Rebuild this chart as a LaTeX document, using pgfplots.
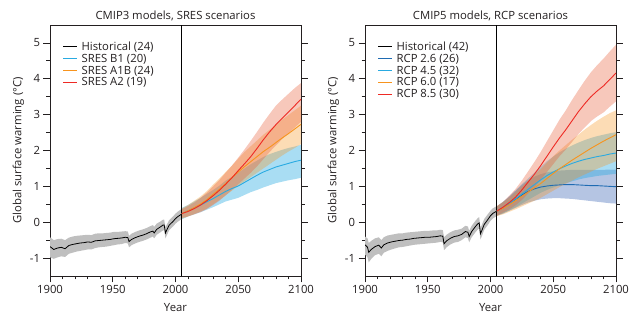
\documentclass[border=0pt]{standalone}
\usepackage{fontspec}
\setmainfont{Open Sans}
\usepackage{pgfplots}
\pgfplotsset{compat=1.18}
\usepackage{pgfplotstable}
\usepgfplotslibrary{fillbetween}
\definecolor{cCyan}{HTML}{29AAE1}
\definecolor{cDkBlue}{HTML}{1F6BB2}
\definecolor{cBandB}{HTML}{5A7FC2}
\definecolor{cOrange}{HTML}{F7941E}
\definecolor{cRed}{HTML}{EE2A24}
\definecolor{cBandR}{HTML}{E8603C}
\definecolor{cTxt}{HTML}{231F20}

% ---------- left panel data ----------
\pgfplotstableread{
yr m lo hi
1900 -0.68 -0.98 -0.42
1903 -0.76 -1.02 -0.50
1906 -0.72 -0.98 -0.47
1909 -0.70 -0.95 -0.46
1912 -0.74 -0.97 -0.50
1915 -0.65 -0.88 -0.43
1918 -0.62 -0.85 -0.40
1921 -0.60 -0.82 -0.38
1924 -0.58 -0.80 -0.37
1927 -0.57 -0.78 -0.36
1930 -0.55 -0.76 -0.35
1933 -0.56 -0.76 -0.36
1936 -0.52 -0.72 -0.32
1939 -0.51 -0.70 -0.31
1942 -0.50 -0.69 -0.31
1945 -0.49 -0.68 -0.30
1948 -0.48 -0.66 -0.29
1951 -0.46 -0.64 -0.27
1954 -0.45 -0.62 -0.27
1957 -0.44 -0.61 -0.26
1960 -0.42 -0.58 -0.25
1962 -0.43 -0.59 -0.26
1963 -0.54 -0.70 -0.38
1965 -0.48 -0.64 -0.32
1968 -0.43 -0.59 -0.27
1971 -0.39 -0.55 -0.23
1974 -0.36 -0.52 -0.20
1977 -0.32 -0.48 -0.16
1980 -0.27 -0.43 -0.11
1982 -0.25 -0.40 -0.08
1983 -0.30 -0.45 -0.13
1985 -0.20 -0.35 -0.04
1988 -0.13 -0.28 0.02
1990 -0.08 -0.23 0.07
1991 -0.08 -0.23 0.07
1992 -0.30 -0.45 -0.15
1993 -0.22 -0.37 -0.07
1995 -0.08 -0.22 0.06
1998 0.02 -0.12 0.16
2000 0.10 -0.04 0.24
2002 0.16 0.02 0.30
2005 0.23 0.09 0.37
}\histA
\pgfplotstableread{
yr m lo hi
2005 0.24 0.08 0.40
2010 0.32 0.16 0.48
2015 0.40 0.22 0.58
2020 0.48 0.28 0.68
2025 0.57 0.35 0.79
2030 0.66 0.42 0.90
2035 0.76 0.50 1.02
2040 0.86 0.58 1.16
2045 0.94 0.63 1.27
2050 1.01 0.68 1.38
2055 1.11 0.76 1.50
2060 1.21 0.84 1.62
2065 1.31 0.90 1.72
2070 1.40 0.97 1.82
2075 1.47 1.03 1.90
2080 1.54 1.09 1.96
2085 1.59 1.13 2.02
2090 1.64 1.17 2.07
2095 1.69 1.20 2.11
2100 1.73 1.24 2.16
}\bOne
\pgfplotstableread{
yr m lo hi
2005 0.24 0.10 0.38
2010 0.32 0.16 0.48
2015 0.41 0.23 0.60
2020 0.51 0.30 0.72
2025 0.63 0.38 0.87
2030 0.78 0.50 1.05
2035 0.92 0.62 1.22
2040 1.08 0.75 1.40
2045 1.24 0.88 1.58
2050 1.40 1.02 1.77
2055 1.55 1.14 1.96
2060 1.69 1.26 2.12
2065 1.83 1.38 2.28
2070 1.97 1.50 2.44
2075 2.09 1.62 2.58
2080 2.22 1.74 2.72
2085 2.35 1.86 2.86
2090 2.47 1.97 2.99
2095 2.60 2.07 3.12
2100 2.73 2.18 3.25
}\aOneB
\pgfplotstableread{
yr m lo hi
2005 0.24 0.12 0.36
2010 0.30 0.16 0.45
2015 0.38 0.22 0.55
2020 0.48 0.28 0.68
2025 0.60 0.37 0.83
2030 0.74 0.48 1.00
2035 0.89 0.60 1.18
2040 1.06 0.75 1.38
2045 1.24 0.90 1.58
2050 1.44 1.06 1.80
2055 1.63 1.22 2.03
2060 1.83 1.38 2.27
2065 2.06 1.56 2.52
2070 2.30 1.76 2.78
2075 2.52 1.96 3.02
2080 2.72 2.14 3.25
2085 2.90 2.32 3.42
2090 3.07 2.48 3.58
2095 3.25 2.64 3.74
2100 3.43 2.80 3.88
}\aTwo

% ---------- right panel data ----------
\pgfplotstableread{
yr m lo hi
1900 -0.63 -0.90 -0.40
1902 -0.70 -0.98 -0.45
1903 -0.84 -1.12 -0.58
1905 -0.76 -1.02 -0.52
1908 -0.68 -0.92 -0.45
1911 -0.64 -0.88 -0.42
1913 -0.72 -0.95 -0.50
1915 -0.63 -0.85 -0.42
1918 -0.58 -0.80 -0.37
1921 -0.55 -0.76 -0.35
1924 -0.53 -0.73 -0.33
1927 -0.51 -0.70 -0.31
1930 -0.50 -0.69 -0.31
1933 -0.48 -0.67 -0.29
1936 -0.47 -0.65 -0.28
1939 -0.45 -0.63 -0.27
1942 -0.44 -0.62 -0.26
1945 -0.43 -0.61 -0.25
1948 -0.42 -0.60 -0.24
1951 -0.42 -0.59 -0.24
1954 -0.41 -0.58 -0.23
1957 -0.40 -0.57 -0.23
1960 -0.38 -0.55 -0.21
1962 -0.39 -0.56 -0.22
1963 -0.60 -0.78 -0.42
1965 -0.52 -0.70 -0.35
1968 -0.45 -0.62 -0.28
1971 -0.40 -0.57 -0.23
1974 -0.38 -0.55 -0.21
1977 -0.34 -0.50 -0.18
1980 -0.26 -0.42 -0.10
1982 -0.28 -0.44 -0.12
1983 -0.40 -0.56 -0.24
1985 -0.26 -0.42 -0.10
1988 -0.12 -0.28 0.04
1990 -0.04 -0.20 0.12
1991 -0.02 -0.18 0.14
1992 -0.32 -0.48 -0.16
1993 -0.24 -0.40 -0.08
1995 -0.06 -0.21 0.09
1998 0.08 -0.07 0.23
2000 0.18 0.04 0.32
2002 0.25 0.11 0.39
2005 0.31 0.17 0.45
}\histB
\pgfplotstableread{
yr m lo hi
2005 0.31 0.18 0.44
2010 0.40 0.24 0.56
2015 0.52 0.32 0.72
2020 0.64 0.40 0.88
2025 0.76 0.48 1.04
2030 0.86 0.55 1.17
2035 0.93 0.60 1.27
2040 0.98 0.64 1.34
2045 1.01 0.66 1.39
2050 1.03 0.67 1.42
2055 1.04 0.67 1.44
2060 1.05 0.66 1.45
2065 1.05 0.65 1.46
2070 1.04 0.63 1.46
2075 1.03 0.61 1.46
2080 1.02 0.59 1.46
2085 1.02 0.57 1.46
2090 1.01 0.55 1.46
2095 1.00 0.53 1.47
2100 0.99 0.52 1.47
}\rcpA
\pgfplotstableread{
yr m lo hi
2005 0.31 0.18 0.44
2010 0.41 0.25 0.57
2015 0.52 0.33 0.71
2020 0.65 0.42 0.88
2025 0.79 0.52 1.06
2030 0.92 0.62 1.22
2035 1.05 0.72 1.38
2040 1.18 0.82 1.54
2045 1.30 0.90 1.70
2050 1.40 0.97 1.83
2055 1.49 1.03 1.95
2060 1.57 1.09 2.05
2065 1.64 1.14 2.14
2070 1.70 1.19 2.22
2075 1.75 1.23 2.29
2080 1.79 1.26 2.35
2085 1.83 1.29 2.40
2090 1.86 1.31 2.44
2095 1.90 1.33 2.48
2100 1.93 1.35 2.51
}\rcpB
\pgfplotstableread{
yr m lo hi
2005 0.31 0.17 0.45
2010 0.39 0.22 0.56
2015 0.49 0.29 0.69
2020 0.60 0.36 0.84
2025 0.72 0.44 1.00
2030 0.84 0.52 1.16
2035 0.96 0.60 1.32
2040 1.08 0.68 1.48
2045 1.22 0.78 1.66
2050 1.36 0.88 1.84
2055 1.49 0.98 2.00
2060 1.61 1.07 2.15
2065 1.73 1.16 2.30
2070 1.84 1.25 2.44
2075 1.95 1.33 2.58
2080 2.06 1.41 2.71
2085 2.16 1.49 2.83
2090 2.26 1.56 2.94
2095 2.35 1.63 3.04
2100 2.44 1.70 3.12
}\rcpC
\pgfplotstableread{
yr m lo hi
2005 0.31 0.18 0.44
2010 0.42 0.27 0.57
2015 0.55 0.36 0.74
2020 0.70 0.47 0.93
2025 0.90 0.62 1.16
2030 1.12 0.80 1.42
2035 1.34 0.98 1.68
2040 1.58 1.18 1.96
2045 1.84 1.40 2.26
2050 2.10 1.62 2.56
2055 2.35 1.84 2.86
2060 2.58 2.03 3.12
2065 2.83 2.24 3.41
2070 3.08 2.46 3.68
2075 3.30 2.64 3.94
2080 3.50 2.82 4.18
2085 3.66 2.95 4.38
2090 3.80 3.06 4.56
2095 3.98 3.22 4.76
2100 4.16 3.37 4.95
}\rcpD

% band: #1 table, #2 unique id, #3 fill colour, #4 opacity
\newcommand{\band}[4]{%
  \addplot[draw=none, forget plot, name path=#2lo] table[x=yr,y=lo]{#1};
  \addplot[draw=none, forget plot, name path=#2hi] table[x=yr,y=hi]{#1};
  \addplot[fill=#3, fill opacity=#4, draw=none, forget plot] fill between[of=#2lo and #2hi];
}

\newcommand{\fs}{\fontsize{11.3}{13}\selectfont}

\pgfplotsset{
  panel/.style={
    scale only axis, width=251pt, height=251pt,
    xmin=1900, xmax=2100, ymin=-1.5, ymax=5.5,
    xtick={1900,1950,2000,2050,2100}, minor x tick num=4,
    ytick={-1,0,1,2,3,4,5}, minor y tick num=1,
    xtick pos=bottom, ytick pos=both,
    tick align=outside,
    major tick length=6.5pt, minor tick length=3.5pt,
    axis line style={line width=0.8pt, cTxt},
    every tick/.style={line width=0.8pt, cTxt},
    /pgf/number format/assume math mode=true,
    /pgf/number format/1000 sep={},
    ticklabel style={font=\fs, text=cTxt},
    xticklabel style={yshift=0.5pt},
    label style={font=\fs, text=cTxt},
    xlabel style={yshift=-3pt},
    ylabel style={yshift=-1pt},
    title style={font=\fs, text=cTxt, yshift=-5pt},
    xlabel={Year},
    ylabel={Global surface warming (°C)},
    legend cell align=left,
    legend style={draw=none, fill=none, font=\fs, text=cTxt,
      at={(0.038,0.948)}, anchor=north west,
      row sep=-0.8pt, nodes={inner sep=1.5pt}},
    legend image code/.code={\draw[##1] (0pt,0pt) -- (14pt,0pt); \path (16.5pt,0pt);},
  }
}

\begin{document}
\begin{tikzpicture}
\draw[white, line width=0pt] (0,0) rectangle (635pt,324pt);
\begin{axis}[panel, at={(50pt,48pt)}, anchor=south west,
  title={CMIP3 models, SRES scenarios}]
  \band{\histA}{ha}{gray!50}{1}
  \band{\bOne}{bo}{cCyan}{0.4}
  \band{\aOneB}{ab}{cOrange}{0.33}
  \band{\aTwo}{at}{cBandR}{0.35}
  \addplot[forget plot, black, line width=0.8pt] coordinates {(2005,-1.5) (2005,5.5)};
  \addplot[forget plot, black, line width=0.8pt] table[x=yr,y=m]{\histA};
  \addplot[forget plot, cCyan, line width=0.9pt] table[x=yr,y=m]{\bOne};
  \addplot[forget plot, cOrange, line width=0.9pt] table[x=yr,y=m]{\aOneB};
  \addplot[forget plot, cRed, line width=0.9pt] table[x=yr,y=m]{\aTwo};
  \addlegendimage{black, line width=0.9pt}
  \addlegendentry{Historical (24)}
  \addlegendimage{cCyan, line width=0.9pt}
  \addlegendentry{SRES B1 (20)}
  \addlegendimage{cOrange, line width=0.9pt}
  \addlegendentry{SRES A1B (24)}
  \addlegendimage{cRed, line width=0.9pt}
  \addlegendentry{SRES A2 (19)}
\end{axis}
\begin{axis}[panel, at={(365pt,48pt)}, anchor=south west,
  title={CMIP5 models, RCP scenarios}]
  \band{\histB}{hb}{gray!50}{1}
  \band{\rcpA}{ra}{cBandB}{0.45}
  \band{\rcpB}{rb}{cCyan}{0.4}
  \band{\rcpC}{rc}{cOrange}{0.33}
  \band{\rcpD}{rr}{cBandR}{0.35}
  \addplot[forget plot, black, line width=0.8pt] coordinates {(2005,-1.5) (2005,5.5)};
  \addplot[forget plot, black, line width=0.8pt] table[x=yr,y=m]{\histB};
  \addplot[forget plot, cDkBlue, line width=0.9pt] table[x=yr,y=m]{\rcpA};
  \addplot[forget plot, cCyan, line width=0.9pt] table[x=yr,y=m]{\rcpB};
  \addplot[forget plot, cOrange, line width=0.9pt] table[x=yr,y=m]{\rcpC};
  \addplot[forget plot, cRed, line width=0.9pt] table[x=yr,y=m]{\rcpD};
  \addlegendimage{black, line width=0.9pt}
  \addlegendentry{Historical (42)}
  \addlegendimage{cDkBlue, line width=0.9pt}
  \addlegendentry{RCP 2.6 (26)}
  \addlegendimage{cCyan, line width=0.9pt}
  \addlegendentry{RCP 4.5 (32)}
  \addlegendimage{cOrange, line width=0.9pt}
  \addlegendentry{RCP 6.0 (17)}
  \addlegendimage{cRed, line width=0.9pt}
  \addlegendentry{RCP 8.5 (30)}
\end{axis}
\end{tikzpicture}
\end{document}
